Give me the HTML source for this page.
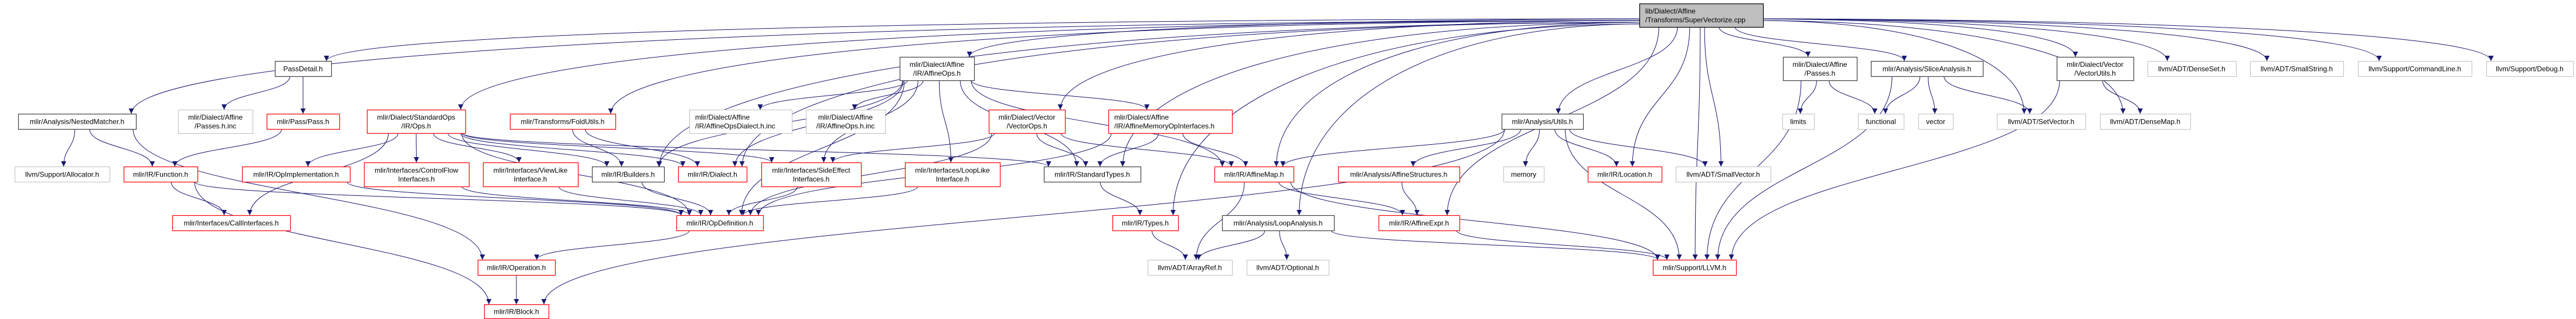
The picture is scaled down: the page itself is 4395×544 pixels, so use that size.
<!DOCTYPE html>
<html><head><meta charset="utf-8"><style>
html,body{margin:0;padding:0;background:#fff;width:4395px;height:544px;overflow:hidden}
svg{display:block}
text{font-family:"Liberation Sans",sans-serif;font-size:12px;fill:#000}
</style></head><body>
<svg id="g" width="4395" height="544" viewBox="0 0 4395 544" xmlns="http://www.w3.org/2000/svg">
<defs><marker id="ah" viewBox="0 0 10 10" refX="10" refY="5" markerWidth="11" markerHeight="9" markerUnits="userSpaceOnUse" orient="auto"><path d="M0,0L10,5L0,10z" fill="#191970"/></marker></defs>
<g id="edges"></g><g id="nodes"></g>
</svg>
<script>
const nodeIds=["main","passdetail","nested","passesinc","pass","stdops","alloc","function","opimpl","ctrlflow","callif","foldutils","dialectinc","affineopsinc","viewlike","builders","dialect","sideeffect","opdef","operation","block","affineops","vectorops","affmemop","looplike","stdtypes","affinemap","types","loopanalysis","arrayref","optional","utils","affstruct","memory","location","smallvector","affexpr","llvm","affpasses","slice","vectorutils","limits","functional","vector","setvector","densemap","denseset","smallstring","cmdline","debug"];
const nodeLabels=[["lib/Dialect/Affine","/Transforms/SuperVectorize.cpp"],["PassDetail.h"],["mlir/Analysis/NestedMatcher.h"],["mlir/Dialect/Affine","/Passes.h.inc"],["mlir/Pass/Pass.h"],["mlir/Dialect/StandardOps","/IR/Ops.h"],["llvm/Support/Allocator.h"],["mlir/IR/Function.h"],["mlir/IR/OpImplementation.h"],["mlir/Interfaces/ControlFlow","Interfaces.h"],["mlir/Interfaces/CallInterfaces.h"],["mlir/Transforms/FoldUtils.h"],["mlir/Dialect/Affine","/IR/AffineOpsDialect.h.inc"],["mlir/Dialect/Affine","/IR/AffineOps.h.inc"],["mlir/Interfaces/ViewLike","Interface.h"],["mlir/IR/Builders.h"],["mlir/IR/Dialect.h"],["mlir/Interfaces/SideEffect","Interfaces.h"],["mlir/IR/OpDefinition.h"],["mlir/IR/Operation.h"],["mlir/IR/Block.h"],["mlir/Dialect/Affine","/IR/AffineOps.h"],["mlir/Dialect/Vector","/VectorOps.h"],["mlir/Dialect/Affine","/IR/AffineMemoryOpInterfaces.h"],["mlir/Interfaces/LoopLike","Interface.h"],["mlir/IR/StandardTypes.h"],["mlir/IR/AffineMap.h"],["mlir/IR/Types.h"],["mlir/Analysis/LoopAnalysis.h"],["llvm/ADT/ArrayRef.h"],["llvm/ADT/Optional.h"],["mlir/Analysis/Utils.h"],["mlir/Analysis/AffineStructures.h"],["memory"],["mlir/IR/Location.h"],["llvm/ADT/SmallVector.h"],["mlir/IR/AffineExpr.h"],["mlir/Support/LLVM.h"],["mlir/Dialect/Affine","/Passes.h"],["mlir/Analysis/SliceAnalysis.h"],["mlir/Dialect/Vector","/VectorUtils.h"],["limits"],["functional"],["vector"],["llvm/ADT/SetVector.h"],["llvm/ADT/DenseMap.h"],["llvm/ADT/DenseSet.h"],["llvm/ADT/SmallString.h"],["llvm/Support/CommandLine.h"],["llvm/Support/Debug.h"]];
const nodeKinds=["main","black","black","gray","red","red","gray","red","red","red","red","red","gray","gray","red","black","red","red","red","red","red","black","red","red","red","black","red","red","black","gray","gray","black","red","gray","red","gray","red","red","black","black","black","gray","gray","gray","gray","gray","gray","gray","gray","gray"];
const nodeBoxes=[[2797,6,3008,46],[469,104,565,130],[31,194,232,220],[304,187,431,227],[455,194,579,220],[626,187,794,227],[25,284,187,310],[211,284,337,310],[413,284,597,310],[621,277,800,318],[294,367,495,393],[870,194,1050,220],[1176,187,1351,227],[1375,187,1510,227],[824,277,986,318],[1010,284,1133,310],[1157,284,1274,310],[1299,277,1469,318],[1154,367,1302,393],[815,443,947,469],[826,519,936,543],[1535,97,1662,137],[1687,187,1817,227],[1891,187,2102,227],[1544,277,1706,318],[1781,284,1946,310],[2072,284,2207,310],[1898,367,2010,393],[2085,367,2276,393],[1958,443,2102,469],[2127,443,2267,469],[2562,194,2701,220],[2283,284,2490,310],[2565,284,2634,310],[2709,284,2835,310],[2859,284,3021,310],[2352,367,2490,393],[2820,443,2962,469],[3042,97,3168,137],[3192,104,3383,130],[3509,97,3640,137],[3041,194,3095,220],[3170,194,3248,220],[3273,194,3332,220],[3407,194,3558,220],[3583,194,3737,220],[3664,104,3815,130],[3839,104,3998,130],[4023,104,4217,130],[4242,104,4390,130]];
const edgeFrom=["main","main","main","main","main","main","main","main","main","main","main","main","main","main","main","main","main","main","main","main","main","main","main","main","main","main","passdetail","passdetail","nested","nested","nested","pass","stdops","stdops","stdops","stdops","stdops","stdops","stdops","stdops","stdops","function","function","function","opimpl","ctrlflow","viewlike","builders","sideeffect","foldutils","foldutils","affineops","affineops","affineops","affineops","affineops","affineops","affineops","affineops","affineops","affineops","vectorops","vectorops","vectorops","vectorops","affmemop","affmemop","affmemop","looplike","opdef","operation","stdtypes","types","affinemap","affinemap","affinemap","loopanalysis","loopanalysis","loopanalysis","utils","utils","utils","utils","utils","utils","utils","affstruct","affexpr","affpasses","affpasses","affpasses","slice","slice","slice","slice","vectorutils","vectorutils"];
const edgeTo=["nested","passdetail","stdops","foldutils","builders","affineops","vectorops","stdtypes","types","loopanalysis","utils","location","smallvector","llvm","affpasses","slice","vectorutils","denseset","smallstring","cmdline","debug","affexpr","setvector","densemap","affinemap","dialect","passesinc","pass","alloc","function","operation","function","callif","opimpl","ctrlflow","viewlike","builders","dialect","sideeffect","stdtypes","opdef","callif","opdef","block","opdef","opdef","opdef","opdef","opdef","builders","dialect","dialectinc","affineopsinc","builders","dialect","sideeffect","looplike","stdtypes","affmemop","affinemap","opdef","sideeffect","stdtypes","affinemap","opdef","stdtypes","affinemap","opdef","opdef","operation","block","types","arrayref","arrayref","affexpr","llvm","arrayref","optional","llvm","affinemap","affstruct","memory","location","smallvector","llvm","block","affexpr","llvm","limits","functional","llvm","functional","vector","setvector","llvm","densemap","llvm"];

const NS="http://www.w3.org/2000/svg";
const eg=document.getElementById('edges'), ng=document.getElementById('nodes');
const box={};
nodeIds.forEach((id,i)=>box[id]=nodeBoxes[i]);
const strokeOf={main:"#000",black:"#404040",gray:"#bfbfbf",red:"#ff0000"};

edgeFrom.forEach((f,i)=>{
  const a=box[f], b=box[edgeTo[i]];
  const acx=(a[0]+a[2])/2, bcx=(b[0]+b[2])/2;
  let sx,sy,tx,ty,d;
  if(f==='main' && Math.abs(bcx-acx)>500){
    sx= bcx<acx ? a[0] : a[2]; sy=a[1]+26+Math.min(12,Math.abs(b[1]-104)/30);
    tx=Math.max(b[0]+8,Math.min(b[2]-8,bcx+(acx-bcx)*0.05)); ty=b[1];
    const dx=tx-sx;
    d=`M${sx},${sy} C${sx+dx*0.6},${sy+2} ${tx},${ty-(ty-sy)*0.6} ${tx},${ty}`;
  } else if(b[1]>=a[3]-2){
    sx=Math.max(a[0]+5,Math.min(a[2]-5,acx+(bcx-acx)*0.15)); sy=a[3];
    tx=Math.max(b[0]+8,Math.min(b[2]-8,bcx+(acx-bcx)*0.1)); ty=b[1];
    const dy=ty-sy;
    d=`M${sx},${sy} C${sx},${sy+dy*0.5} ${tx},${ty-dy*0.5} ${tx},${ty}`;
  } else {
    sx=a[0]; sy=(a[1]+a[3])/2; tx=b[2]; ty=(b[1]+b[3])/2;
    if(bcx>acx){sx=a[2];tx=b[0];}
    d=`M${sx},${sy} C${(sx+tx)/2},${sy} ${(sx+tx)/2},${ty} ${tx},${ty}`;
  }
  const p=document.createElementNS(NS,'path');
  p.setAttribute('d',d);p.setAttribute('fill','none');p.setAttribute('stroke','#191970');p.setAttribute('stroke-width','1');p.setAttribute('marker-end','url(#ah)');
  
  
  eg.appendChild(p);
});

nodeIds.forEach((id,i)=>{
  const b=nodeBoxes[i], k=nodeKinds[i], lines=nodeLabels[i];
  const g=document.createElementNS(NS,'g');
  
  
  const r=document.createElementNS(NS,'rect');
  r.setAttribute('x',b[0]+0.5);r.setAttribute('y',b[1]+0.5);r.setAttribute('width',b[2]-b[0]);r.setAttribute('height',b[3]-b[1]);
  r.setAttribute('fill',k==='main'?'#bfbfbf':'#fff');r.setAttribute('stroke',strokeOf[k]);r.setAttribute('stroke-width',k==='gray'?'1':'1.2');
  g.appendChild(r);
  const left=(k==='main'||id==='affmemop'||id==='dialectinc');
  const h=b[3]-b[1];
  lines.forEach((ln,j)=>{
    const t=document.createElementNS(NS,'text');
    const y=lines.length===1? b[1]+h/2+4.5 : b[1]+h/2-3+j*15;
    t.setAttribute('y',y);
    if(left){t.setAttribute('x',b[0]+10);} else {t.setAttribute('x',(b[0]+b[2])/2);t.setAttribute('text-anchor','middle');}
    t.textContent=ln;
    g.appendChild(t);
    const w=t.getComputedTextLength(), maxw=b[2]-b[0]-16;
    if(w>maxw){t.setAttribute('textLength',maxw);t.setAttribute('lengthAdjust','spacingAndGlyphs');}
  });
  ng.appendChild(g);
});
</script>
</body></html>
